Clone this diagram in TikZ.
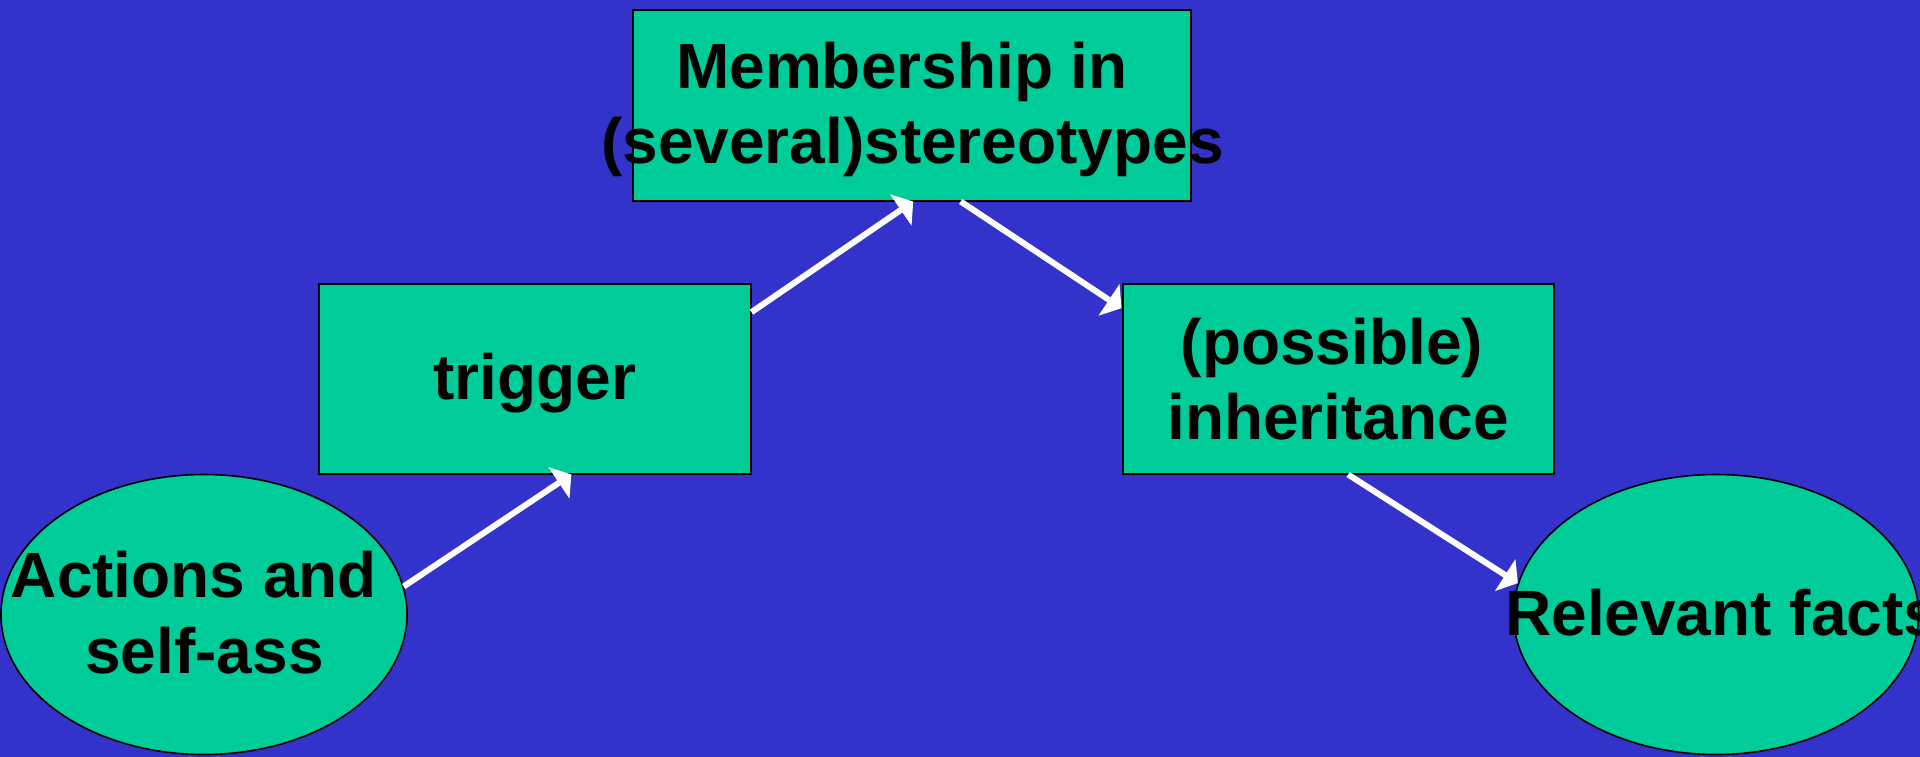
\documentclass[tikz,border=0pt]{standalone}
\usepackage{fontspec}
\setmainfont{Liberation Sans}
\usetikzlibrary{arrows.meta,shapes.geometric}
\definecolor{slidebg}{RGB}{51,51,204}
\definecolor{boxgreen}{RGB}{0,204,153}
\tikzset{
  greenbox/.style={draw=black, line width=2pt, fill=boxgreen, rectangle, inner sep=0pt},
  greenoval/.style={draw=black, line width=1.6pt, fill=boxgreen, ellipse, inner sep=0pt},
  flow/.style={draw=white, line width=6pt,
    -{Triangle[length=15pt,width=38pt,line width=0pt]}},
  lbl/.style={anchor=base, inner sep=0pt, text=black,
    font=\fontsize{64}{76}\selectfont\bfseries}
}
\begin{document}
\begin{tikzpicture}[x=1pt,y=-1pt]
  \useasboundingbox (0,0) rectangle (1920,756);
  \clip (-4,-4) rectangle (1924,760);
  \fill[slidebg] (-4,-4) rectangle (1924,760);

  % shapes
  \node[greenbox, minimum width=558pt, minimum height=191pt] (mem) at (911.5,105) {};
  \node[greenbox, minimum width=432pt, minimum height=190pt] (trig) at (534.5,378.5) {};
  \node[greenbox, minimum width=431pt, minimum height=190pt] (inh) at (1338,378.5) {};
  \node[greenoval, minimum width=406pt, minimum height=280pt] (act) at (204,614.5) {};
  \node[greenoval, minimum width=405pt, minimum height=280pt] (rel) at (1716,614.5) {};

  % labels
  \node[lbl] (memA) at (902,88) {Membership in};
  \node[lbl] (memB) at (912.5,163) {(several)stereotypes};
  \node[lbl] (trigA) at (535,399) {trigger};
  \node[lbl] (inhA) at (1332,364) {(possible)};
  \node[lbl] (inhB) at (1338,439) {inheritance};
  \node[lbl] (actA) at (194,597) {Actions and};
  \node[lbl] (actB) at (204.5,673) {self-ass};
  \node[lbl, anchor=base west] (relA) at (1505,635) {Relevant facts};

  % connectors
  \draw[flow] (act.8.5) -- (trig.-69.1);
  \draw[flow] (trig.17.6) -- (mem.-89.1);
  \draw[flow] (mem.-63.7) -- (inh.162.6);
  \draw[flow] (inh.-84) -- (rel.171.5);
\end{tikzpicture}
\end{document}
